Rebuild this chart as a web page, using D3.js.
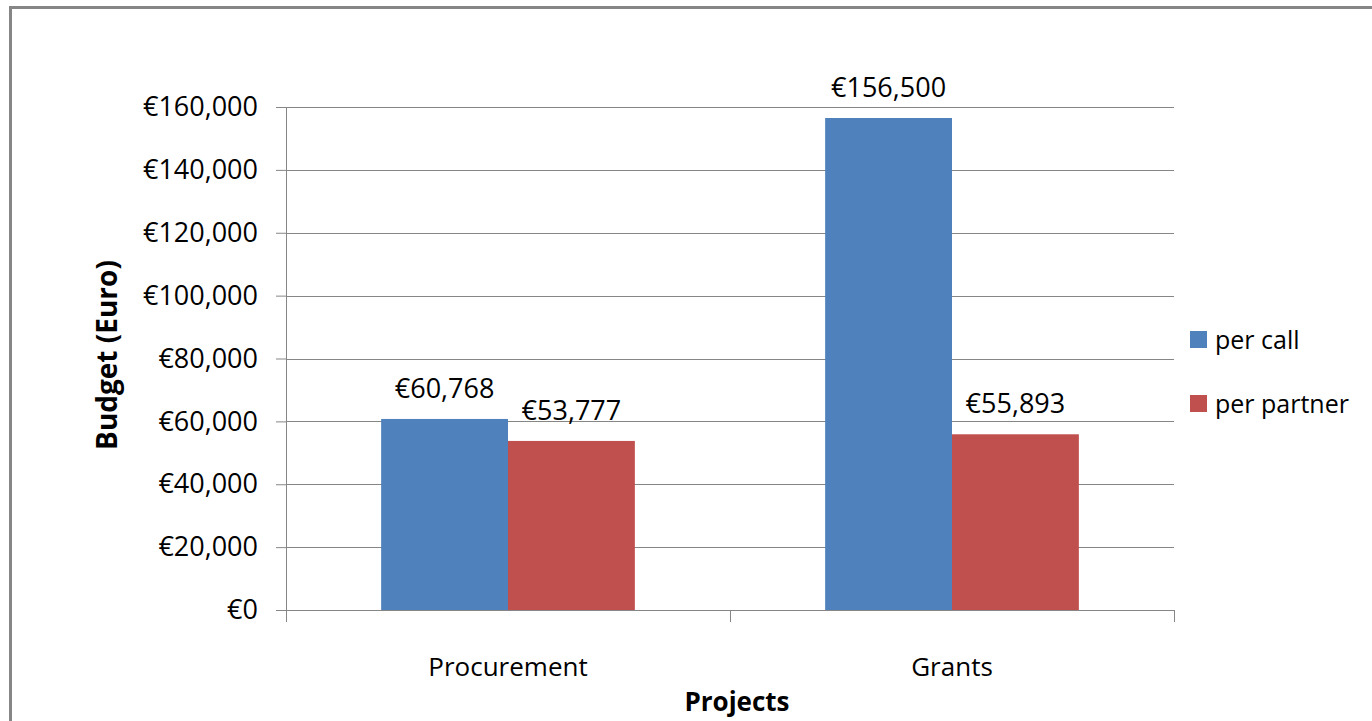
<!DOCTYPE html>
<html lang="en">
<head>
<meta charset="utf-8">
<title>Budget per project type</title>
<script src="https://d3js.org/d3.v7.min.js"></script>
<style>
  body { margin: 0; background: #fff; }
  svg { display: block; font-family: "Open Sans", Lato, sans-serif; }
  .axis .domain { stroke: #868686; }
  .axis line { stroke: #868686; }
</style>
</head>
<body>
<div id="chart"></div>
<script>
// data
var categories = ["Procurement", "Grants"];
var seriesNames = ["per call", "per partner"];
var perCall = [60768, 156500];
var perPartner = [53777, 55893];
var yTicks = [0, 20000, 40000, 60000, 80000, 100000, 120000, 140000, 160000];
var colors = ["#4F81BD", "#C0504D"];

var width = 1372, height = 721;
var margin = {top: 107, right: 198, bottom: 111, left: 286};
var innerWidth = width - margin.left - margin.right;
var innerHeight = height - margin.top - margin.bottom;

var svg = d3.select("#chart").append("svg")
  .attr("width", width)
  .attr("height", height);

// outer frame, only the top and left edges are inside the shot
svg.append("path")
  .attr("d", `M10.5,${height}V7.5H${width}`)
  .attr("fill", "none")
  .attr("stroke", "#868686")
  .attr("stroke-width", 3);

var g = svg.append("g").attr("transform", `translate(${margin.left},${margin.top})`);

var x0 = d3.scaleBand().domain(categories).range([0, innerWidth]);
var x1 = d3.scaleBand().domain(seriesNames)
  .range([0, x0.bandwidth()])
  .paddingInner(0)
  .paddingOuter(0.75);
var y = d3.scaleLinear().domain([0, 160000]).range([innerHeight, 0]);

var fmt = v => "€" + d3.format(",")(v);

// gridlines
g.append("g")
  .selectAll("line")
  .data(yTicks.slice(1))
  .join("line")
  .attr("x1", 0).attr("x2", innerWidth)
  .attr("y1", d => Math.round(y(d)) + 0.5)
  .attr("y2", d => Math.round(y(d)) + 0.5)
  .attr("stroke", "#868686")
  .attr("stroke-width", 1);

var rows = categories.map((c, i) => ({cat: c, values: [
  {key: seriesNames[0], value: perCall[i]},
  {key: seriesNames[1], value: perPartner[i]}
]}));

var groups = g.append("g")
  .selectAll("g")
  .data(rows)
  .join("g")
  .attr("transform", d => `translate(${x0(d.cat)},0)`);

groups.selectAll("rect")
  .data(d => d.values)
  .join("rect")
  .attr("x", d => x1(d.key))
  .attr("y", d => y(d.value))
  .attr("width", x1.bandwidth())
  .attr("height", d => innerHeight - y(d.value))
  .attr("fill", (d, i) => colors[i]);

groups.selectAll("text")
  .data(d => d.values)
  .join("text")
  .attr("x", d => x1(d.key) + x1.bandwidth() / 2)
  .attr("y", d => y(d.value) - 21)
  .attr("text-anchor", "middle")
  .attr("font-size", 27)
  .attr("fill", "#000")
  .text(d => fmt(d.value));

// y axis
g.append("g")
  .attr("class", "axis")
  .call(d3.axisLeft(y).tickValues(yTicks).tickFormat(fmt).tickSize(10).tickPadding(18))
  .attr("font-size", null)
  .attr("font-family", null)
  .call(a => a.select(".domain").attr("d", `M0.5,0V${innerHeight}`))
  .call(a => a.selectAll("text").attr("fill", "#000").attr("font-size", 27));

// x axis, ticks on category boundaries
var xa = g.append("g")
  .attr("class", "axis")
  .attr("transform", `translate(0,${innerHeight})`);
xa.append("line")
  .attr("x1", 0).attr("x2", innerWidth)
  .attr("y1", 0.5).attr("y2", 0.5);
xa.selectAll(".edge")
  .data(x0.domain().map(c => x0(c)).concat([innerWidth]))
  .join("line")
  .attr("class", "edge")
  .attr("x1", d => d + 0.5).attr("x2", d => d + 0.5)
  .attr("y1", 0).attr("y2", 12);
xa.selectAll("text")
  .data(categories)
  .join("text")
  .attr("x", d => x0(d) + x0.bandwidth() / 2)
  .attr("y", 66)
  .attr("text-anchor", "middle")
  .attr("font-size", 26)
  .attr("fill", "#000")
  .text(d => d);

// axis titles
svg.append("text")
  .attr("transform", "translate(117,355) rotate(-90)")
  .attr("text-anchor", "middle")
  .attr("font-size", 28)
  .attr("font-weight", "bold")
  .text("Budget (Euro)");

svg.append("text")
  .attr("x", 737)
  .attr("y", 711)
  .attr("text-anchor", "middle")
  .attr("font-size", 26)
  .attr("font-weight", "bold")
  .text("Projects");

// legend
var legend = svg.append("g")
  .selectAll("g")
  .data(seriesNames)
  .join("g")
  .attr("transform", (d, i) => `translate(1190,${331 + i * 64})`);

legend.append("rect")
  .attr("width", 17).attr("height", 17)
  .attr("fill", (d, i) => colors[i]);

legend.append("text")
  .attr("x", 25)
  .attr("y", 18)
  .attr("font-size", 25)
  .text(d => d);
</script>
</body>
</html>
